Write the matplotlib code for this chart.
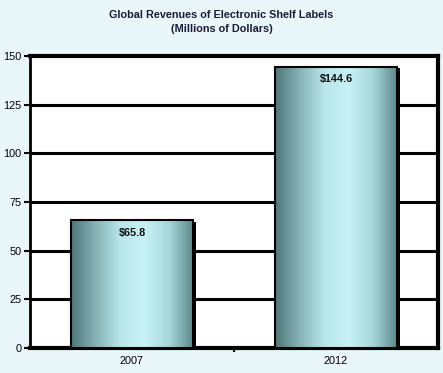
import numpy as np
import matplotlib.pyplot as plt
from matplotlib.colors import LinearSegmentedColormap
from matplotlib.patches import Rectangle

plt.rcParams['font.family'] = ['Liberation Sans', 'DejaVu Sans']

years = ['2007', '2012']
revenues = [65.8, 144.6]
labels = ['$65.8', '$144.6']
yticks = [0, 25, 50, 75, 100, 125, 150]

bg = '#e9f7fb'
grad = LinearSegmentedColormap.from_list(
    'bar', ['#4e7678', '#86b2b6', '#b8e6ea', '#c8f3f6', '#a6d6da', '#5a8789'])

fig = plt.figure(figsize=(4.43, 3.73), dpi=100, facecolor=bg)
ax = fig.add_axes([30 / 443, 25 / 373, 408 / 443, 292 / 373])
ax.set_facecolor('white')

x = np.arange(len(years))
width = 0.6

for y in yticks[1:-1]:
    ax.axhline(y, color='black', lw=2.2, zorder=1)

img = np.linspace(0, 1, 256).reshape(1, -1)
for xi, v, lab in zip(x, revenues, labels):
    # shadow
    ax.add_patch(Rectangle((xi - width / 2 + 0.015, 0), width, v - 1.0,
                           facecolor='black', edgecolor='none', zorder=2))
    im = ax.imshow(img, cmap=grad, aspect='auto', zorder=3,
                   extent=(xi - width / 2, xi + width / 2, 0, v))
    rect = Rectangle((xi - width / 2, 0), width, v, facecolor='none',
                     edgecolor='black', lw=1.5, zorder=4)
    ax.add_patch(rect)
    im.set_clip_path(rect)
    ax.text(xi, v - 4, lab, ha='center', va='top', fontsize=7.8,
            fontweight='bold', color='#111111', zorder=5)

ax.set_xlim(-0.5, 1.5)
ax.set_ylim(0, 150)

for s in ['top', 'right', 'bottom']:
    ax.spines[s].set_linewidth(3)
ax.spines['left'].set_linewidth(2)

ax.set_yticks(yticks)
ax.set_yticklabels([str(t) for t in yticks], fontsize=7.8)
ax.tick_params(axis='y', length=4, width=1.5, pad=2)
ax.set_xticks(x)
ax.set_xticklabels(years, fontsize=7.8)
ax.tick_params(axis='x', length=0, pad=6)
ax.set_xticks([0.5], minor=True)
ax.tick_params(axis='x', which='minor', length=3, width=1.5)

fig.text(0.5, 1 - 10 / 373, 'Global Revenues of Electronic Shelf Labels\n(Millions of Dollars)',
         ha='center', va='top', fontsize=7.8, fontweight='bold',
         color='#1a1a3a', linespacing=1.45)

fig.savefig('out.png', dpi=100, facecolor=bg)
